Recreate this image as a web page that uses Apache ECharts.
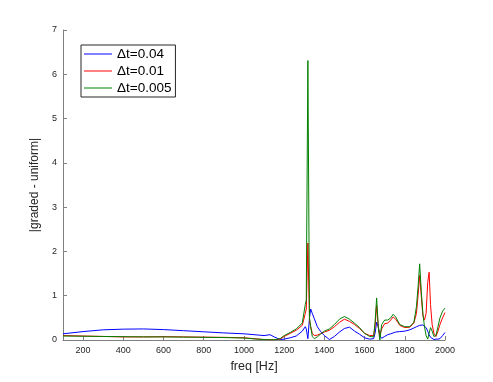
<!DOCTYPE html>
<html>
<head>
<meta charset="utf-8">
<script src="https://cdn.jsdelivr.net/npm/echarts@6/dist/echarts.min.js"></script>
<style>
  html, body { margin: 0; padding: 0; background: #fff; }
  #chart { width: 493px; height: 382px; }
</style>
</head>
<body>
<div id="chart"></div>
<script>
// frequencies shared by all three curves (Hz)
var freq = [100, 200, 300, 400, 500, 600, 700, 800, 900, 1000, 1050, 1100, 1130, 1150, 1180, 1200,
  1230, 1260, 1290, 1305, 1310, 1318, 1326, 1332, 1340, 1350, 1365, 1380, 1400, 1425, 1450, 1475,
  1500, 1525, 1550, 1575, 1600, 1625, 1645, 1652, 1660, 1668, 1676, 1685, 1700, 1715, 1730, 1742,
  1755, 1775, 1800, 1825, 1845, 1858, 1866, 1874, 1882, 1890, 1898, 1906, 1914, 1921, 1928, 1936,
  1945, 1955, 1965, 1975, 1988, 2000];

var dt004 = [0.14, 0.19, 0.23, 0.245, 0.25, 0.235, 0.21, 0.185, 0.16, 0.14, 0.12, 0.10, 0.12, 0.07, 0.01, 0.02,
  0.05, 0.09, 0.2, 0.3, 0.25, 0.03, 0.5, 0.70, 0.6, 0.48, 0.3, 0.2, 0.1, 0.01, 0.08, 0.18,
  0.26, 0.29, 0.2, 0.13, 0.05, 0.02, 0.03, 0.15, 0.4, 0.3, 0.1, 0.04, 0.08, 0.12, 0.14, 0.16,
  0.18, 0.19, 0.2, 0.23, 0.27, 0.3, 0.31, 0.33, 0.34, 0.34, 0.33, 0.28, 0.2, 0.12, 0.06, 0.02,
  0.01, 0.02, 0.02, 0.03, 0.1, 0.17];

var dt001 = [0.1, 0.09, 0.08, 0.07, 0.07, 0.075, 0.07, 0.065, 0.06, 0.05, 0.03, 0.01, 0.005, 0.005, 0.02, 0.08,
  0.15, 0.22, 0.33, 0.6, 0.7, 2.19, 0.45, 0.3, 0.15, 0.1, 0.11, 0.14, 0.18, 0.22, 0.3, 0.4,
  0.47, 0.42, 0.35, 0.26, 0.15, 0.1, 0.1, 0.3, 0.78, 0.3, 0.1, 0.25, 0.37, 0.38, 0.45, 0.52,
  0.47, 0.33, 0.28, 0.29, 0.38, 0.6, 1.0, 1.46, 1.0, 0.55, 0.45, 0.6, 1.3, 1.53, 0.8, 0.35,
  0.15, 0.08, 0.2, 0.35, 0.5, 0.62];

var dt0005 = [0.09, 0.085, 0.08, 0.075, 0.07, 0.07, 0.065, 0.06, 0.055, 0.045, 0.025, 0.01, 0.005, 0.005, 0.03, 0.1,
  0.17, 0.25, 0.38, 0.8, 0.9, 6.31, 0.5, 0.3, 0.08, 0.03, 0.07, 0.13, 0.2, 0.25, 0.35, 0.47,
  0.53, 0.47, 0.38, 0.28, 0.15, 0.08, 0.07, 0.4, 0.95, 0.3, 0.0, 0.35, 0.45, 0.45, 0.5, 0.58,
  0.52, 0.35, 0.3, 0.3, 0.4, 0.75, 1.2, 1.72, 1.1, 0.6, 0.3, 0.1, 0.02, 0.15, 0.28, 0.2,
  0.08, 0.1, 0.3, 0.5, 0.65, 0.72];

var names = ['\u0394t=0.04', '\u0394t=0.01', '\u0394t=0.005'];
var colors = ['#0000ff', '#ff0000', '#008000'];
var xTicks = [200, 400, 600, 800, 1000, 1200, 1400, 1600, 1800, 2000];

function pairs(v) {
  return freq.map(function (f, i) { return [f, v[i]]; });
}

var myChart = echarts.init(document.getElementById('chart'));
var series = [dt004, dt001, dt0005].map(function (v, i) {
  return {
    name: names[i],
    type: 'line',
    symbol: 'none',
    data: pairs(v),
    color: colors[i],
    lineStyle: { width: 1, color: colors[i] }
  };
});

var axisGray = '#808080';
var option = {
  animation: false,
  backgroundColor: '#fff',
  textStyle: { fontFamily: 'Liberation Sans, Arial, sans-serif' },
  legend: {
    orient: 'vertical',
    left: 81,
    top: 45,
    padding: [2, 4, 2, 3],
    itemGap: 3,
    itemWidth: 28,
    itemHeight: 1,
    icon: 'rect',
    borderColor: '#262626',
    borderWidth: 1,
    backgroundColor: '#fff',
    data: names,
    textStyle: { fontSize: 13.5, color: '#000', lineHeight: 14, padding: [0, 0, 0, 0] }
  },
  grid: { left: 63, right: 48, top: 30, bottom: 42 },
  xAxis: {
    type: 'value',
    min: 100,
    max: 2000,
    name: 'freq [Hz]',
    nameLocation: 'middle',
    nameGap: 16,
    nameTextStyle: { fontSize: 12.5, color: '#262626' },
    axisLine: { show: true, onZero: false, lineStyle: { color: axisGray, width: 1 } },
    axisTick: { show: true, inside: true, length: 4, customValues: xTicks, lineStyle: { color: axisGray } },
    axisLabel: {
      customValues: xTicks, fontSize: 9, color: '#262626', margin: 6,
      formatter: function (v) { return String(v); }
    },
    splitLine: { show: false }
  },
  yAxis: {
    type: 'value',
    min: 0,
    max: 7,
    interval: 1,
    name: '|graded - uniform|',
    nameLocation: 'middle',
    nameGap: 11,
    nameTextStyle: { fontSize: 12, color: '#262626' },
    axisLine: { show: true, lineStyle: { color: axisGray, width: 1 } },
    axisTick: { show: true, inside: true, length: 4, lineStyle: { color: axisGray } },
    axisLabel: { fontSize: 9, color: '#262626', margin: 6 },
    splitLine: { show: false }
  },
  series: series
};
myChart.setOption(option);
</script>
</body>
</html>
